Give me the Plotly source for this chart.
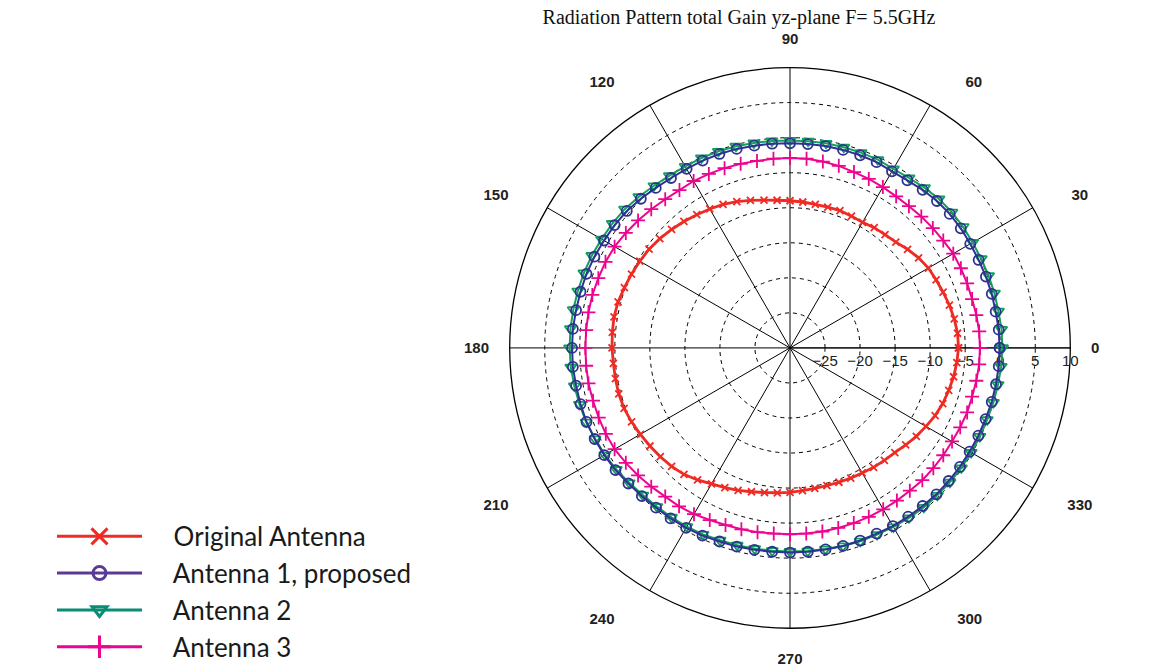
import plotly.graph_objects as go

# Angles (degrees) sampled every 5 degrees
theta_deg = list(range(0, 360, 5))

# Total gain (dB)
original_antenna = [
    -5.95, -6.0, -6.2, -6.45, -6.75, -7.0, -7.2, -7.6, -8.1, -8.65,
    -8.9, -9.05, -9.3, -9.25, -9.15, -9.2, -9.2, -9.1, -9.0, -8.85,
    -8.6, -8.2, -7.8, -7.4, -7.1, -6.8, -6.45, -6.1, -5.75, -5.45,
    -5.25, -5.05, -4.85, -4.6, -4.5, -4.55, -4.6, -4.7, -4.7, -4.7,
    -4.8, -5.05, -5.35, -5.6, -5.85, -6.1, -6.45, -7.0, -7.6, -8.0,
    -8.35, -8.75, -9.05, -9.25, -9.4, -9.55, -9.65, -9.65, -9.6, -9.5,
    -9.4, -9.2, -9.05, -8.85, -8.45, -8.0, -7.6, -7.15, -6.8, -6.55,
    -6.3, -6.1,
]
antenna_1 = [
    -0.1, -0.1, -0.2, -0.2, -0.25, -0.3, -0.3, -0.25, -0.25, -0.35,
    -0.55, -0.8, -0.9, -0.75, -0.75, -0.75, -0.75, -0.8, -0.8, -0.75,
    -0.7, -0.6, -0.55, -0.5, -0.5, -0.4, -0.2, 0.1, 0.4, 0.55,
    0.65, 0.8, 0.9, 0.95, 1.0, 1.1, 1.1, 1.1, 1.0, 0.95,
    0.9, 0.75, 0.6, 0.4, 0.1, -0.1, -0.25, -0.3, -0.35, -0.45,
    -0.6, -0.65, -0.75, -0.8, -0.8, -0.8, -0.8, -0.75, -0.75, -0.75,
    -0.65, -0.6, -0.55, -0.45, -0.45, -0.4, -0.4, -0.35, -0.3, -0.2,
    -0.15, -0.1,
]
antenna_2 = [
    0.3, 0.3, 0.2, 0.2, 0.15, 0.1, 0.1, 0.15, 0.15, 0.05,
    -0.15, -0.4, -0.5, -0.35, -0.35, -0.35, -0.35, -0.4, -0.4, -0.35,
    -0.3, -0.2, -0.15, -0.1, -0.1, 0.0, 0.2, 0.5, 0.8, 0.95,
    1.05, 1.2, 1.3, 1.35, 1.4, 1.45, 1.45, 1.4, 1.25, 1.1,
    0.95, 0.7, 0.5, 0.25, -0.05, -0.3, -0.45, -0.5, -0.55, -0.65,
    -0.8, -0.85, -0.9, -0.95, -0.95, -0.9, -0.85, -0.75, -0.65, -0.6,
    -0.5, -0.4, -0.3, -0.25, -0.2, -0.15, -0.15, -0.1, -0.05, 0.05,
    0.15, 0.25,
]
antenna_3 = [
    -2.9, -2.9, -3.0, -3.1, -3.1, -3.1, -3.1, -3.3, -3.4, -3.5,
    -3.6, -3.6, -3.5, -3.4, -3.3, -3.1, -3.0, -2.9, -2.9, -2.9,
    -2.9, -2.8, -2.7, -2.6, -2.5, -2.5, -2.3, -2.0, -1.7, -1.4,
    -1.1, -0.95, -0.9, -0.8, -0.8, -0.8, -0.8, -0.8, -0.8, -0.9,
    -0.95, -1.0, -1.1, -1.4, -1.7, -2.0, -2.3, -2.4, -2.6, -2.9,
    -3.1, -3.2, -3.3, -3.4, -3.4, -3.4, -3.4, -3.4, -3.4, -3.4,
    -3.4, -3.4, -3.4, -3.3, -3.3, -3.3, -3.3, -3.2, -3.1, -3.1,
    -3.0, -2.9,
]

series_names = ["Original Antenna", "Antenna 1, proposed", "Antenna 2", "Antenna 3"]
series_values = [original_antenna, antenna_1, antenna_2, antenna_3]

angular_tickvals = list(range(0, 360, 30))
angular_ticktext = ["0", "30", "60", "90", "120", "150", "180", "210", "240", "270", "300", "330"]
radial_tickvals = [-25, -20, -15, -10, -5, 0, 5, 10]
radial_ticktext = ["\u221225", "\u221220", "\u221215", "\u221210", "\u22125", "0", "5", "10"]

title_text = "Radiation Pattern total Gain yz-plane F= 5.5GHz"

colors = ["#ee2b24", "#2e3192", "#13a05c", "#ec058e"]
legend_colors = ["#ee2b24", "#5a3a94", "#0b8c76", "#ec058e"]
symbols = ["x-thin", "circle-open", "triangle-down-open", "cross-thin"]
msizes = [7, 10, 10, 10]
lwidths = [2.8, 2, 2, 2]
draw_order = [2, 1, 3, 0]

# diagonal angle labels sit a little further out in the reference
nb = "\u00a0"
lead_pad = {30: 5, 60: 6, 300: 4, 330: 4}
trail_pad = {120: 6, 150: 5, 210: 5, 240: 6}
shown_ticktext = []
for v, t in zip(angular_tickvals, angular_ticktext):
    shown_ticktext.append(nb * lead_pad.get(v, 0) + t + nb * trail_pad.get(v, 0))

fig = go.Figure()

def closed(seq):
    return list(seq) + [seq[0]]

for i in draw_order:
    fig.add_trace(go.Scatterpolar(
        r=closed(series_values[i]),
        theta=closed(theta_deg),
        mode="lines+markers",
        name=series_names[i],
        showlegend=False,
        line=dict(color=colors[i], width=lwidths[i]),
        marker=dict(symbol=symbols[i], size=msizes[i],
                    color=colors[i], line=dict(color=colors[i], width=1.8)),
    ))

# legend entries
leg_sizes = [18, 13, 13, 18]
pad = nb * 4
for i in range(4):
    fig.add_trace(go.Scatterpolar(
        r=[None], theta=[None],
        mode="lines+markers",
        name=pad + series_names[i],
        showlegend=True,
        line=dict(color=legend_colors[i], width=3),
        marker=dict(symbol=symbols[i], size=leg_sizes[i], color=legend_colors[i],
                    line=dict(color=legend_colors[i], width=3)),
    ))

W, H = 1153, 671
cx, cy, R = 790, 350, 282
fig.update_layout(
    width=W, height=H,
    margin=dict(l=0, r=0, t=0, b=0),
    paper_bgcolor="white",
    title=dict(text=title_text, x=739 / W, xanchor="center", y=1 - 17 / H, yanchor="middle",
               yref="container",
               font=dict(family="Liberation Serif", size=20, color="#111")),
    polar=dict(
        domain=dict(x=[(cx - R) / W, (cx + R) / W], y=[(H - cy - R) / H, (H - cy + R) / H]),
        bgcolor="white",
        radialaxis=dict(
            range=[-30, 10], tickmode="array", tickvals=radial_tickvals, ticktext=radial_ticktext,
            angle=0, side="clockwise", showline=True, linecolor="black", linewidth=1,
            gridcolor="black", gridwidth=1, griddash="4px,4px", ticks="",
            tickfont=dict(family="Liberation Sans", size=15, color="#222"),
            layer="below traces",
        ),
        angularaxis=dict(
            tickmode="array", tickvals=angular_tickvals, ticktext=shown_ticktext,
            rotation=0, direction="counterclockwise",
            showline=True, linecolor="black", linewidth=1.3,
            gridcolor="black", gridwidth=1,
            ticks="outside", ticklen=17, tickcolor="rgba(0,0,0,0)",
            tickfont=dict(family="Liberation Sans", size=15, color="#222", weight="bold"),
            layer="below traces",
        ),
    ),
    legend=dict(x=52 / W, y=(H - 516) / H, xanchor="left", yanchor="top",
                font=dict(family="Lato", size=26, color="#1a1a1a"),
                bgcolor="rgba(0,0,0,0)", itemwidth=85, tracegroupgap=0),
)

fig.write_html("out.html", config={"displayModeBar": False},
               post_script="document.body.style.margin='0';")
